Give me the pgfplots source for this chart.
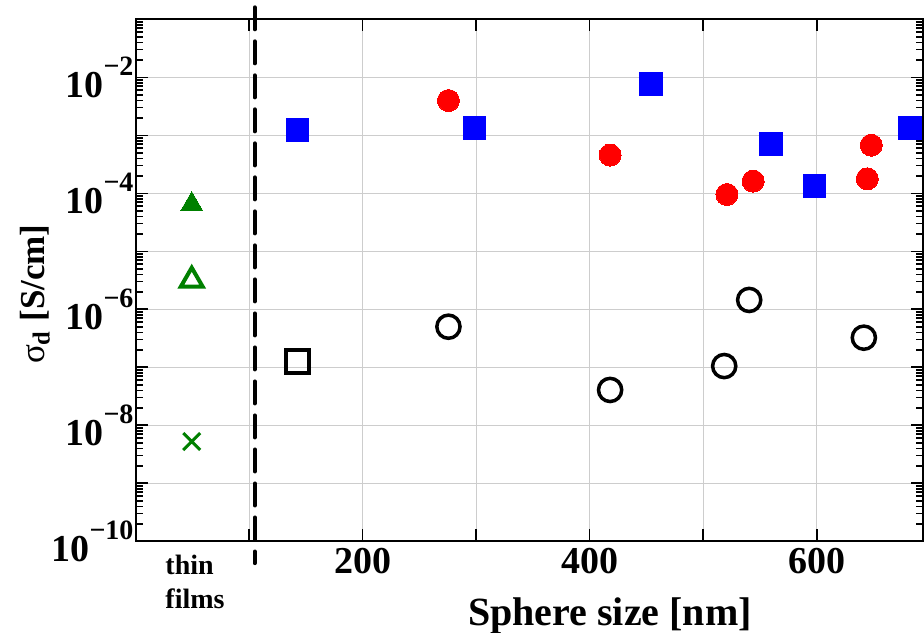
\documentclass[border=0pt]{standalone}
\usepackage{fontspec}
\setmainfont{Liberation Serif}
\usepackage{pgfplots}
\pgfplotsset{compat=1.18}
\definecolor{mgreen}{RGB}{0,128,0}
\definecolor{gridgray}{RGB}{205,205,205}
% log tick label: bold 10 with a raised exponent
\newcommand{\dec}[1]{10\raisebox{0.58em}{\fontsize{14}{14}\selectfont\bfseries −#1}}

\begin{document}
\begin{tikzpicture}
\begin{axis}[
  scale only axis,
  width=393.6pt, height=260.9pt,
  xmin=0, xmax=693.6,
  ymode=log, ymin=1e-10, ymax=1e-1,
  clip=false,
  xtick={100,200,300,400,500,600},
  xticklabels={,200,,400,,600},
  ytick={1e-10,1e-9,1e-8,1e-7,1e-6,1e-5,1e-4,1e-3,1e-2,1e-1},
  yticklabels={\dec{10},,\dec{8},,\dec{6},,\dec{4},,\dec{2},},
  grid=major,
  major grid style={gridgray, line width=0.5pt},
  axis line style={line width=1pt},
  major tick length=6pt, minor tick length=3.5pt,
  every tick/.style={black, line width=0.8pt},
  tick label style={font=\fontsize{19}{19}\selectfont\bfseries},
  yticklabel style={xshift=2.5pt},
  xlabel={Sphere size [nm]},
  xlabel style={font=\fontsize{20}{20}\selectfont\bfseries,
    at={(axis description cs:0.6025,0)}, anchor=base, yshift=-42pt},
  ylabel={\textnormal{σ}\textsubscript{d} [S/cm]},
  ylabel style={font=\fontsize{17.5}{17.5}\selectfont\bfseries,
    at={(axis description cs:-0.1276,0.4735)}, anchor=center},
]
% separator between thin films and spheres
\addplot[black, line width=2pt, line cap=round, dash pattern=on 11pt off 6pt]
  coordinates {(105,0.161) (105,4.2e-11)};

% thin films
\addplot[only marks, mark=triangle*, mark size=6.35pt, color=mgreen,
  mark options={fill=mgreen, draw=mgreen, line width=0pt}]
  coordinates {(49.5,6.46e-5)};
\addplot[only marks, mark=triangle, mark size=6.3pt, color=mgreen,
  mark options={line width=2pt}]
  coordinates {(49.5,3.16e-6)};
\addplot[only marks, mark=x, mark size=6pt, color=mgreen,
  mark options={line width=1.5pt}]
  coordinates {(49.5,5.25e-9)};

% blue filled squares
\addplot[only marks, mark=square*, mark size=5.7pt, color=blue,
  mark options={fill=blue, draw=blue, line width=0pt}]
  coordinates {
    (142.6,1.23e-3)
    (298.5,1.35e-3)
    (453.9,7.59e-3)
    (559.9,7.08e-4)
    (598.0,1.32e-4)
    (681.8,1.32e-3)
  };

% red filled circles
\addplot[only marks, mark=*, mark size=5.5pt, color=red,
  mark options={fill=red, draw=red, line width=0pt}]
  coordinates {
    (275.6,3.98e-3)
    (418.0,4.57e-4)
    (520.9,9.55e-5)
    (544.0,1.62e-4)
    (648.0,6.76e-4)
    (644.5,1.78e-4)
  };

% black open circles
\addplot[only marks, mark=o, mark size=5.8pt, color=black,
  mark options={line width=1.75pt}]
  coordinates {
    (275.6,5.01e-7)
    (418.0,4.07e-8)
    (518.5,1.05e-7)
    (540.5,1.45e-6)
    (641.5,3.24e-7)
  };

% black open square
\addplot[only marks, mark=square, mark size=5.75pt, color=black,
  mark options={line width=2pt}]
  coordinates {(142.6,1.26e-7)};

\node[anchor=base west, inner sep=0pt, font=\fontsize{14}{14}\selectfont\bfseries]
  at ([yshift=-16.5pt]axis cs:26,1e-10) {thin};
\node[anchor=base west, inner sep=0pt, font=\fontsize{14}{14}\selectfont\bfseries]
  at ([yshift=-33.5pt]axis cs:26,1e-10) {films};
\end{axis}
\pgfresetboundingbox
\useasboundingbox ([xshift=-67.75pt,yshift=-45.5pt]current axis.south west)
  rectangle ([xshift=0.5pt,yshift=9.65pt]current axis.north east);
\end{tikzpicture}
\end{document}
